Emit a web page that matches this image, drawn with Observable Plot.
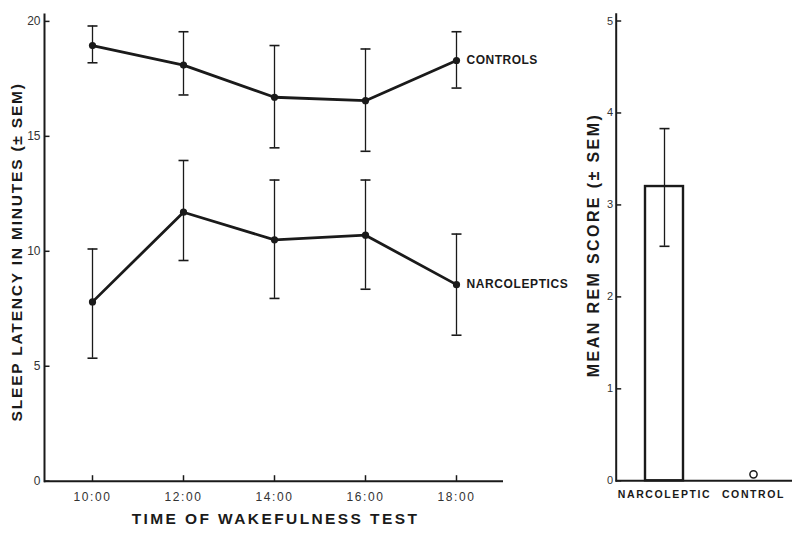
<!DOCTYPE html>
<html><head><meta charset="utf-8">
<script src="https://cdn.jsdelivr.net/npm/d3@7"></script>
<script src="https://cdn.jsdelivr.net/npm/@observablehq/plot@0.6"></script>
<style>
html,body{margin:0;padding:0;background:#fff;}
#wrap{position:relative;width:796px;height:536px;overflow:hidden;background:#fff;}
#left{position:absolute;left:0;top:0;}
#right{position:absolute;left:550px;top:0;}
#wrap svg{overflow:visible;}
</style></head><body><div id="wrap"><div id="left"></div><div id="right"></div></div>
<script>
// ---- data: left panel (sleep latency) ----
const times = ["10:00","12:00","14:00","16:00","18:00"];
const controlsMean = [18.95, 18.1, 16.7, 16.55, 18.3];
const controlsLow  = [18.2, 16.8, 14.5, 14.35, 17.1];
const controlsHigh = [19.8, 19.55, 18.95, 18.8, 19.55];
const narcoMean = [7.8, 11.7, 10.5, 10.7, 8.55];
const narcoLow  = [5.35, 9.6, 7.95, 8.35, 6.35];
const narcoHigh = [10.1, 13.95, 13.1, 13.1, 10.75];
const groupLabels = ["CONTROLS", "NARCOLEPTICS"];
const latencyTicks = [0, 5, 10, 15, 20];
const latencyTitle = "SLEEP LATENCY IN MINUTES (± SEM)";
const timeTitle = "TIME OF WAKEFULNESS TEST";
// ---- data: right panel (REM score) ----
const remGroups = ["NARCOLEPTIC", "CONTROL"];
const remMean = [3.2, 0.07];
const remLow  = [2.55, null];
const remHigh = [3.83, null];
const remTicks = [0, 1, 2, 3, 4, 5];
const remTitle = "MEAN REM SCORE (± SEM)";

const ink = "#1a1a1a";
const font = "Liberation Sans, Arial, sans-serif";
const cap = {draw(ctx, size){const r = Math.sqrt(size/Math.PI); ctx.moveTo(-r,0); ctx.lineTo(r,0);}};
const tickRight = {draw(ctx, size){const r = Math.sqrt(size/Math.PI); ctx.moveTo(0,0); ctx.lineTo(r,0);}};
const tickUp = {draw(ctx, size){const r = Math.sqrt(size/Math.PI); ctx.moveTo(0,0); ctx.lineTo(0,-r);}};

const rows = [];
times.forEach((t,i) => rows.push({time:t, group:groupLabels[0], mean:controlsMean[i], lo:controlsLow[i], hi:controlsHigh[i]}));
times.forEach((t,i) => rows.push({time:t, group:groupLabels[1], mean:narcoMean[i], lo:narcoLow[i], hi:narcoHigh[i]}));
const ends = [
  {time: times[times.length-1], mean: controlsMean[controlsMean.length-1], label: groupLabels[0]},
  {time: times[times.length-1], mean: narcoMean[narcoMean.length-1], label: groupLabels[1]}
];

const left = Plot.plot({
  width: 550, height: 536,
  marginLeft: 44, marginRight: 47, marginTop: 14, marginBottom: 55.3,
  style: {background: "transparent", fontFamily: font, color: ink, overflow: "visible"},
  x: {type: "point", domain: times, padding: 0.5, label: null},
  y: {domain: [0, 20.3], label: null},
  marks: [
    Plot.axisY({ticks: latencyTicks, tickSize: 0, tickPadding: 4, fontSize: 12, label: null, fill: "#333"}),
    Plot.axisX({tickSize: 0, tickPadding: 11, fontSize: 12, label: null, fill: "#333"}),
    Plot.dot(latencyTicks, {y: d => d, frameAnchor: "left", symbol: tickRight, r: 5, stroke: ink, fill: "none", strokeWidth: 1.5}),
    Plot.dot(times, {x: d => d, frameAnchor: "bottom", symbol: tickUp, r: 6, stroke: ink, fill: "none", strokeWidth: 1.5}),
    Plot.frame({anchor: "left", stroke: ink, strokeWidth: 2}),
    Plot.ruleY([0], {stroke: ink, strokeWidth: 2}),
    Plot.ruleX(rows, {x: "time", y1: "lo", y2: "hi", stroke: ink, strokeWidth: 1.3}),
    Plot.dot(rows, {x: "time", y: "lo", symbol: cap, r: 5, stroke: ink, fill: "none", strokeWidth: 1.6}),
    Plot.dot(rows, {x: "time", y: "hi", symbol: cap, r: 5, stroke: ink, fill: "none", strokeWidth: 1.6}),
    Plot.line(rows, {x: "time", y: "mean", z: "group", stroke: ink, strokeWidth: 2.8}),
    Plot.dot(rows, {x: "time", y: "mean", r: 3.6, fill: ink}),
    Plot.text(ends, {x: "time", y: "mean", text: "label", dx: 10, textAnchor: "start", fontSize: 12, fontWeight: "bold", fill: ink}),
    Plot.text([latencyTitle], {frameAnchor: "left", textAnchor: "middle", lineAnchor: "middle", rotate: -90, dx: -27, dy: 4, fontSize: 15.5, fontWeight: "bold", fill: ink}),
    Plot.text([timeTitle], {frameAnchor: "bottom", textAnchor: "middle", lineAnchor: "middle", dy: 38, dx: 1.5, fontSize: 15.5, fontWeight: "bold", fill: ink})
  ]
});

const rem = remGroups.map((g,i) => ({group: g, mean: remMean[i], lo: remLow[i], hi: remHigh[i]}));
const remBars = rem.filter(d => d.lo != null);
const remZero = rem.filter(d => d.lo == null);

const right = Plot.plot({
  width: 246, height: 536,
  marginLeft: 65.7, marginRight: 4, marginTop: 13.7, marginBottom: 55.7,
  style: {background: "transparent", fontFamily: font, color: ink, overflow: "visible"},
  x: {type: "band", domain: remGroups, paddingInner: 0.57, paddingOuter: 0.265, align: 0.59, label: null},
  y: {domain: [0, 5.074], label: null},
  marks: [
    Plot.axisY({ticks: remTicks, tickFormat: d3.format("d"), tickSize: 0, tickPadding: 3, fontSize: 11, label: null, fill: "#333"}),
    Plot.axisX({tickSize: 0, tickPadding: 10, fontSize: 10.5, fontWeight: "bold", label: null, fill: ink}),
    Plot.dot(remTicks, {y: d => d, frameAnchor: "left", symbol: tickRight, r: 5, stroke: ink, fill: "none", strokeWidth: 1.5}),
    Plot.barY(remBars, {x: "group", y: "mean", fill: "white", stroke: ink, strokeWidth: 2.4}),
    Plot.frame({anchor: "left", stroke: ink, strokeWidth: 2}),
    Plot.ruleY([0], {stroke: ink, strokeWidth: 2}),
    Plot.ruleX(remBars, {x: "group", y1: "lo", y2: "hi", stroke: ink, strokeWidth: 1.3}),
    Plot.dot(remBars, {x: "group", y: "lo", symbol: cap, r: 5, stroke: ink, fill: "none", strokeWidth: 1.6}),
    Plot.dot(remBars, {x: "group", y: "hi", symbol: cap, r: 5, stroke: ink, fill: "none", strokeWidth: 1.6}),
    Plot.dot(remZero, {x: "group", y: "mean", r: 3.6, stroke: ink, fill: "white", strokeWidth: 1.5}),
    Plot.text([remTitle], {frameAnchor: "left", textAnchor: "middle", lineAnchor: "middle", rotate: -90, dx: -22, dy: -2.5, fontSize: 16, fontWeight: "bold", fill: ink})
  ]
});

document.getElementById("left").appendChild(left);
document.getElementById("right").appendChild(right);

const spacing = {};
times.forEach(t => spacing[t] = 1.6);
spacing[groupLabels[0]] = 0.5;
spacing[groupLabels[1]] = 0.6;
spacing[latencyTitle] = 1.8;
spacing[timeTitle] = 2.4;
spacing[remTitle] = 2.4;
remGroups.forEach(g => spacing[g] = 1.6);
for (const svg of [left, right]) {
  d3.select(svg).selectAll("text").each(function() {
    const s = spacing[this.textContent];
    if (s != null) this.style.letterSpacing = s + "px";
  });
}
</script>
</body></html>
